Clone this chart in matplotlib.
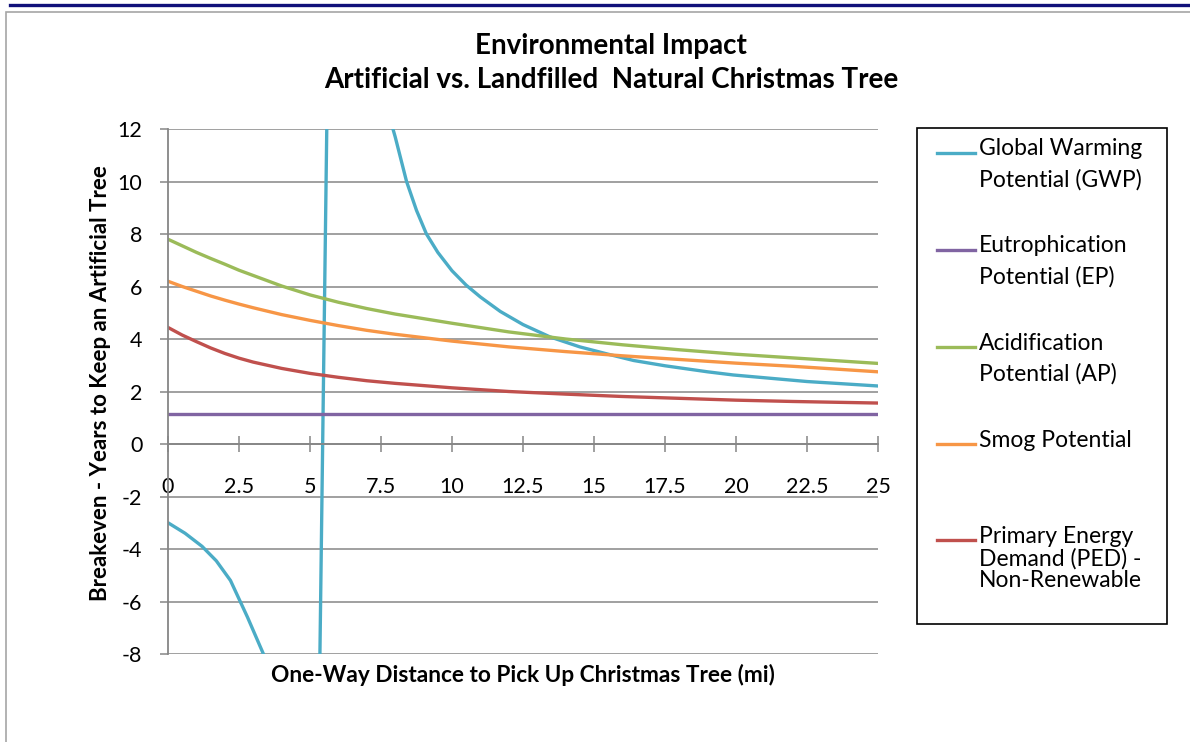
import matplotlib
matplotlib.use("Agg")
import matplotlib.pyplot as plt
from matplotlib.lines import Line2D
from matplotlib.patches import Rectangle

plt.rcParams['font.family'] = ['Lato', 'DejaVu Sans']

# distancia de ida (millas) y años de equilibrio
dist_gwp = [0, 0.6, 1.2, 1.7, 2.2, 2.8, 3.4, 4.0, 5.0, 6.0, 7.0, 7.5, 8.0, 8.4, 8.75, 9.1, 9.5, 10,
            10.5, 11, 11.7, 12.5, 13.45, 14.5, 15.5, 16.4, 17.5, 19, 19.9, 22.5, 25]
gwp = [-3.0, -3.4, -3.9, -4.45, -5.2, -6.6, -8.1, -9.6, -37, 46, 15.6, 13.6, 11.7, 10.0, 8.9, 8.0, 7.3, 6.6,
       6.05, 5.6, 5.05, 4.55, 4.08, 3.7, 3.42, 3.18, 2.98, 2.75, 2.63, 2.38, 2.21]

dist = [0, 0.5, 1, 1.5, 2, 2.5, 3, 4, 5, 6, 7, 8, 10, 12, 14, 16, 18, 20, 22, 25]
ep = [1.15, 1.15, 1.15, 1.15, 1.15, 1.15, 1.15, 1.15, 1.15, 1.15,
      1.15, 1.15, 1.15, 1.15, 1.15, 1.15, 1.15, 1.15, 1.15, 1.15]
ap = [7.8, 7.55, 7.3, 7.07, 6.85, 6.62, 6.42, 6.02, 5.68, 5.4,
      5.16, 4.95, 4.6, 4.27, 4.0, 3.78, 3.59, 3.42, 3.28, 3.07]
smog = [6.2, 6.0, 5.82, 5.64, 5.48, 5.33, 5.19, 4.93, 4.71, 4.51,
        4.33, 4.18, 3.92, 3.7, 3.52, 3.36, 3.22, 3.08, 2.96, 2.75]
ped = [4.44, 4.15, 3.9, 3.66, 3.45, 3.27, 3.12, 2.88, 2.69, 2.54,
       2.41, 2.31, 2.14, 2.0, 1.9, 1.81, 1.74, 1.67, 1.62, 1.56]

series = ["Global Warming\nPotential (GWP)", "Eutrophication\nPotential (EP)",
          "Acidification\nPotential (AP)", "Smog Potential",
          "Primary Energy\nDemand (PED) -\nNon-Renewable\n "]
colores = ['#4BACC6', '#8064A2', '#9BBB59', '#F79646', '#C0504D']

xticks = [0, 2.5, 5, 7.5, 10, 12.5, 15, 17.5, 20, 22.5, 25]
xlabels = ["0", "2.5", "5", "7.5", "10", "12.5", "15", "17.5", "20", "22.5", "25"]
yticks = [-8, -6, -4, -2, 0, 2, 4, 6, 8, 10, 12]
ylabels = ["-8", "-6", "-4", "-2", "0", "2", "4", "6", "8", "10", "12"]

W, H = 1190, 742
gris = '#868686'
fs_leg = 16.5

fig = plt.figure(figsize=(W / 100, H / 100), dpi=100)

# marco exterior y linea azul superior
fig.add_artist(Rectangle((5.7 / W, -0.1), 1.2, 1 - 12 / H + 0.1, transform=fig.transFigure,
                         fill=False, edgecolor='#a6a6a6', lw=1.2))
fig.add_artist(Line2D([10 / W, 1], [1 - 4.5 / H, 1 - 4.5 / H], transform=fig.transFigure,
                      color='#10107a', lw=2.4))

ax = fig.add_axes([168 / W, 1 - 654 / H, 710 / W, 525 / H])

ys = [gwp, ep, ap, smog, ped]
xs = [dist_gwp, dist, dist, dist, dist]
for x, y, nombre, c in zip(xs, ys, series, colores):
    relleno = "\n " * max(0, 3 - nombre.count("\n") - 1)
    ax.plot(x, y, color=c, lw=2.4, label=nombre + relleno, solid_joinstyle='round')

ax.set_xlim(0, 25)
ax.set_ylim(-8, 12)
ax.set_yticks(yticks)
ax.set_yticklabels(ylabels)
ax.set_xticks(xticks)
ax.set_xticklabels(xlabels)

ax.grid(axis='y', color=gris, lw=1.1)
ax.set_axisbelow(True)
for s in ['top', 'right']:
    ax.spines[s].set_visible(False)
ax.spines['left'].set_color(gris)
ax.spines['left'].set_linewidth(1.3)
ax.spines['bottom'].set_position(('data', 0))
ax.spines['bottom'].set_color(gris)
ax.spines['bottom'].set_linewidth(1.3)

ax.tick_params(axis='y', direction='out', length=5.5, width=1.1, color=gris, pad=13, labelsize=15.5)
ax.tick_params(axis='x', direction='inout', length=12, width=1.1, color=gris, pad=18, labelsize=15.5)

ax.set_ylabel("Breakeven - Years to Keep an Artificial Tree", fontsize=16, fontweight='bold')
ax.yaxis.set_label_coords((111 - 168) / 710, (654 - 383) / 525)
ax.set_xlabel("One-Way Distance to Pick Up Christmas Tree (mi)", fontsize=16.3, fontweight='bold', va='center')
ax.xaxis.set_label_coords(0.5, (654 - 675) / 525)

fig.text(611 / W, 1 - 63 / H, "Environmental Impact\nArtificial vs. Landfilled  Natural Christmas Tree",
         ha='center', va='center', fontsize=20, fontweight='bold', linespacing=1.42)

leg = ax.legend(loc='upper left', bbox_to_anchor=(917 / W, 1 - 622 / H, 250 / W, 494 / H),
                bbox_transform=fig.transFigure, mode='expand', borderaxespad=0,
                fancybox=False, edgecolor='black', fontsize=fs_leg, handlelength=1.66,
                handletextpad=0.61, borderpad=0.45, labelspacing=0.64, framealpha=1)
leg.get_frame().set_linewidth(1.2)
for t in leg.get_texts():
    t.set_linespacing(1.55)
leg.get_texts()[-1].set_linespacing(1.05)

# mover cada linea de la leyenda a la primera linea de su texto
fig.canvas.draw()
r = fig.canvas.get_renderer()
px = 100 / 72
for linea, t in zip(leg.get_lines(), leg.get_texts()):
    bt = t.get_window_extent(r)
    bl = linea.get_window_extent(r)
    objetivo = bt.y1 - 0.62 * fs_leg * px
    actual = (bl.y0 + bl.y1) / 2
    dy = (objetivo - actual) / px
    dx = 10 / px
    linea.set_ydata([v + dy for v in linea.get_ydata()])
    linea.set_xdata([v + dx for v in linea.get_xdata()])

fig.savefig("out.png", dpi=100)
